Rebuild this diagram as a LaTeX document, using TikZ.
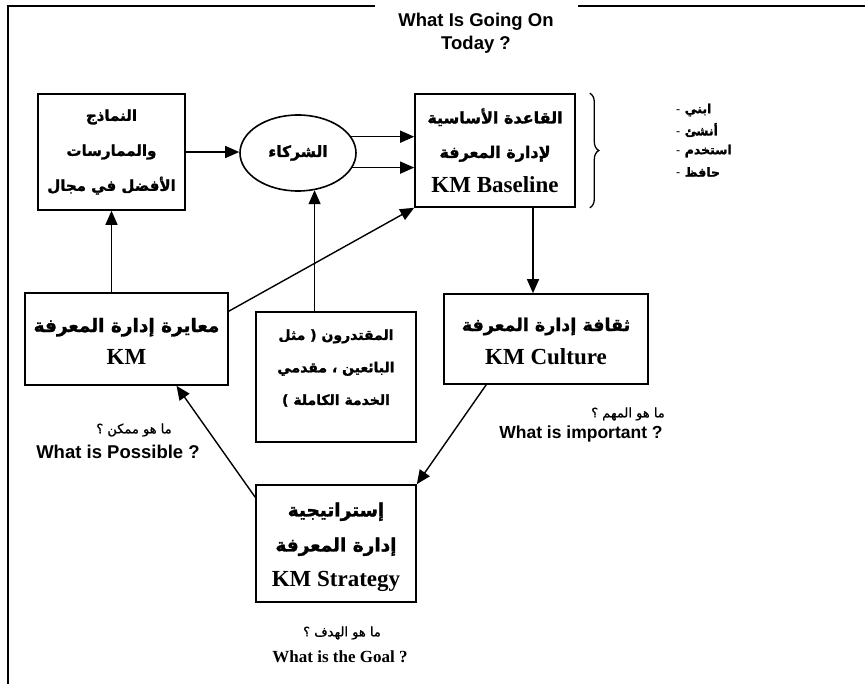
\documentclass[tikz,border=0pt]{standalone}
\usepackage{fontspec}
\setmainfont{Liberation Serif}
\newfontfamily\sansf{Liberation Sans}
\newfontfamily\arabicfont[Script=Arabic, FakeBold=1]{DejaVu Sans}
\newfontfamily\arabicbold[Script=Arabic, FakeBold=1.5]{DejaVu Sans Bold}
\TeXXeTstate=1
\usetikzlibrary{arrows.meta,decorations.pathreplacing,shapes.geometric}
\newcommand\arb[1]{{\arabicbold\beginR #1\endR}}
\newcommand\arq[1]{{\arabicfont\beginR #1\endR}}
\newcommand\en[2]{{\bfseries\fontsize{23}{#1}\selectfont #2}}
\begin{document}
\begin{tikzpicture}[x=1pt,y=-1pt,
  box/.style={draw, line width=1.6pt, inner sep=0pt, align=center},
  txt/.style={inner sep=0pt, align=center},
  arr/.style={line width=1.4pt, -{Triangle[length=14pt,width=12pt]}},
  frame/.style={line width=2.2pt},
  qar/.style={font=\fontsize{13}{16}\selectfont, inner sep=0pt},
  qen/.style={font=\sansf\bfseries\fontsize{17.5}{20}\selectfont, inner sep=0pt},
  qtm/.style={font=\bfseries\fontsize{17}{20}\selectfont, inner sep=0pt},
  item/.style={anchor=west, inner sep=0pt, font=\fontsize{12.5}{14}\selectfont}]
\useasboundingbox (0,0) rectangle (865,684);
% frame
\coordinate (f1) at (375,6);
\coordinate (f2) at (8,6);
\coordinate (f3) at (8,684);
\coordinate (f4) at (578,6);
\coordinate (f5) at (865,6);
\draw[frame] (f1) -- (f2) -- (f3);
\draw[frame] (f4) -- (f5);
% title
\node[txt, font=\sansf\bfseries\fontsize{18.5}{23}\selectfont] (title) at (476,33) {What Is Going On\\Today ?};
% boxes
\node[box, minimum width=147pt, minimum height=116pt, font=\fontsize{15}{35}\selectfont] (A) at (111.5,152)
  {\arb{النماذج}\\\arb{والممارسات}\\\arb{الأفضل في مجال}};
\node[draw, ellipse, line width=1.6pt, inner sep=0pt, minimum width=116pt, minimum height=76pt,
  font=\fontsize{15.5}{18}\selectfont] (ell) at (298,153) {\arb{الشركاء}};
\node[box, minimum width=160pt, minimum height=113pt, font=\fontsize{16}{34.5}\selectfont] (B) at (495,150.5)
  {\arb{القاعدة الأساسية}\\\arb{لإدارة المعرفة}\\\en{34.5}{KM Baseline}};
\node[draw, line width=1.6pt, minimum width=203pt, minimum height=92pt] (km) at (126.5,339) {};
\node[txt, font=\fontsize{18.5}{32}\selectfont] (kmtxt) at (126.5,341)
  {\arb{معايرة إدارة المعرفة}\\\en{32}{KM}};
\node[draw, line width=1.6pt, minimum width=160pt, minimum height=130pt] (sup) at (336,377) {};
\node[txt, font=\fontsize{14}{32.5}\selectfont] (suptxt) at (336,368)
  {\arb{المقتدرون ( مثل}\\\arb{البائعين ، مقدمي}\\\arb{الخدمة الكاملة )}};
\node[draw, line width=1.6pt, minimum width=204pt, minimum height=90pt] (cul) at (546,339) {};
\node[txt, font=\fontsize{17.5}{33}\selectfont] (cultxt) at (546,341)
  {\arb{ثقافة إدارة المعرفة}\\\en{33}{KM Culture}};
\node[draw, line width=1.6pt, minimum width=160pt, minimum height=117pt] (str) at (336,543.5) {};
\node[txt, font=\fontsize{18.5}{35}\selectfont] (strtxt) at (336,547)
  {\arb{إستراتيجية}\\\arb{إدارة المعرفة}\\\en{35}{KM Strategy}};
% brace and list
\coordinate (br1) at ([xshift=14pt]B.north east);
\coordinate (br2) at ([xshift=14pt]B.south east);
\draw[line width=1.3pt, decorate, decoration={brace, amplitude=9pt}] (br1) -- (br2);
\node[item] (l1) at (676,110) {\arb{ابني {\sansf -}}};
\node[item] (l2) at (676,130) {\arb{أنشئ {\sansf -}}};
\node[item] (l3) at (676,151) {\arb{استخدم {\sansf -}}};
\node[item] (l4) at (676,172) {\arb{حافظ {\sansf -}}};
% questions
\node[qar] (q1a) at (134,430) {\arq{ما هو ممكن ؟}};
\node[qen, font=\sansf\bfseries\fontsize{18.5}{20}\selectfont] (q1e) at (118,452) {What is Possible ?};
\node[qar] (q2a) at (628,414) {\arq{ما هو المهم ؟}};
\node[qen] (q2e) at (581,434) {What is important ?};
\node[qar] (q3a) at (342,633) {\arq{ما هو الهدف ؟}};
\node[qtm] (q3e) at (340,657) {What is the Goal ?};
% connectors
\draw[arr] (A.east) -- (A.east -| ell.west);
\draw[arr] (ell.17) -- (ell.17 -| B.west);
\draw[arr] (ell.-15) -- (ell.-15 -| B.west);
\draw[arr] (ell.-66 |- sup.north) -- (ell.-66);
\draw[arr] (A.south |- km.north) -- (A.south);
\draw[arr] ([yshift=-19pt]km.north east) -- (B.south west);
\draw[arr] ([xshift=38pt]B.south) -- ([xshift=38pt]B.south |- cul.north);
\draw[arr] ([xshift=43pt]cul.south west) -- (str.north east);
\draw[arr] ([yshift=-13pt]str.north west) -- ([xshift=50pt]km.south);
\end{tikzpicture}
\end{document}
